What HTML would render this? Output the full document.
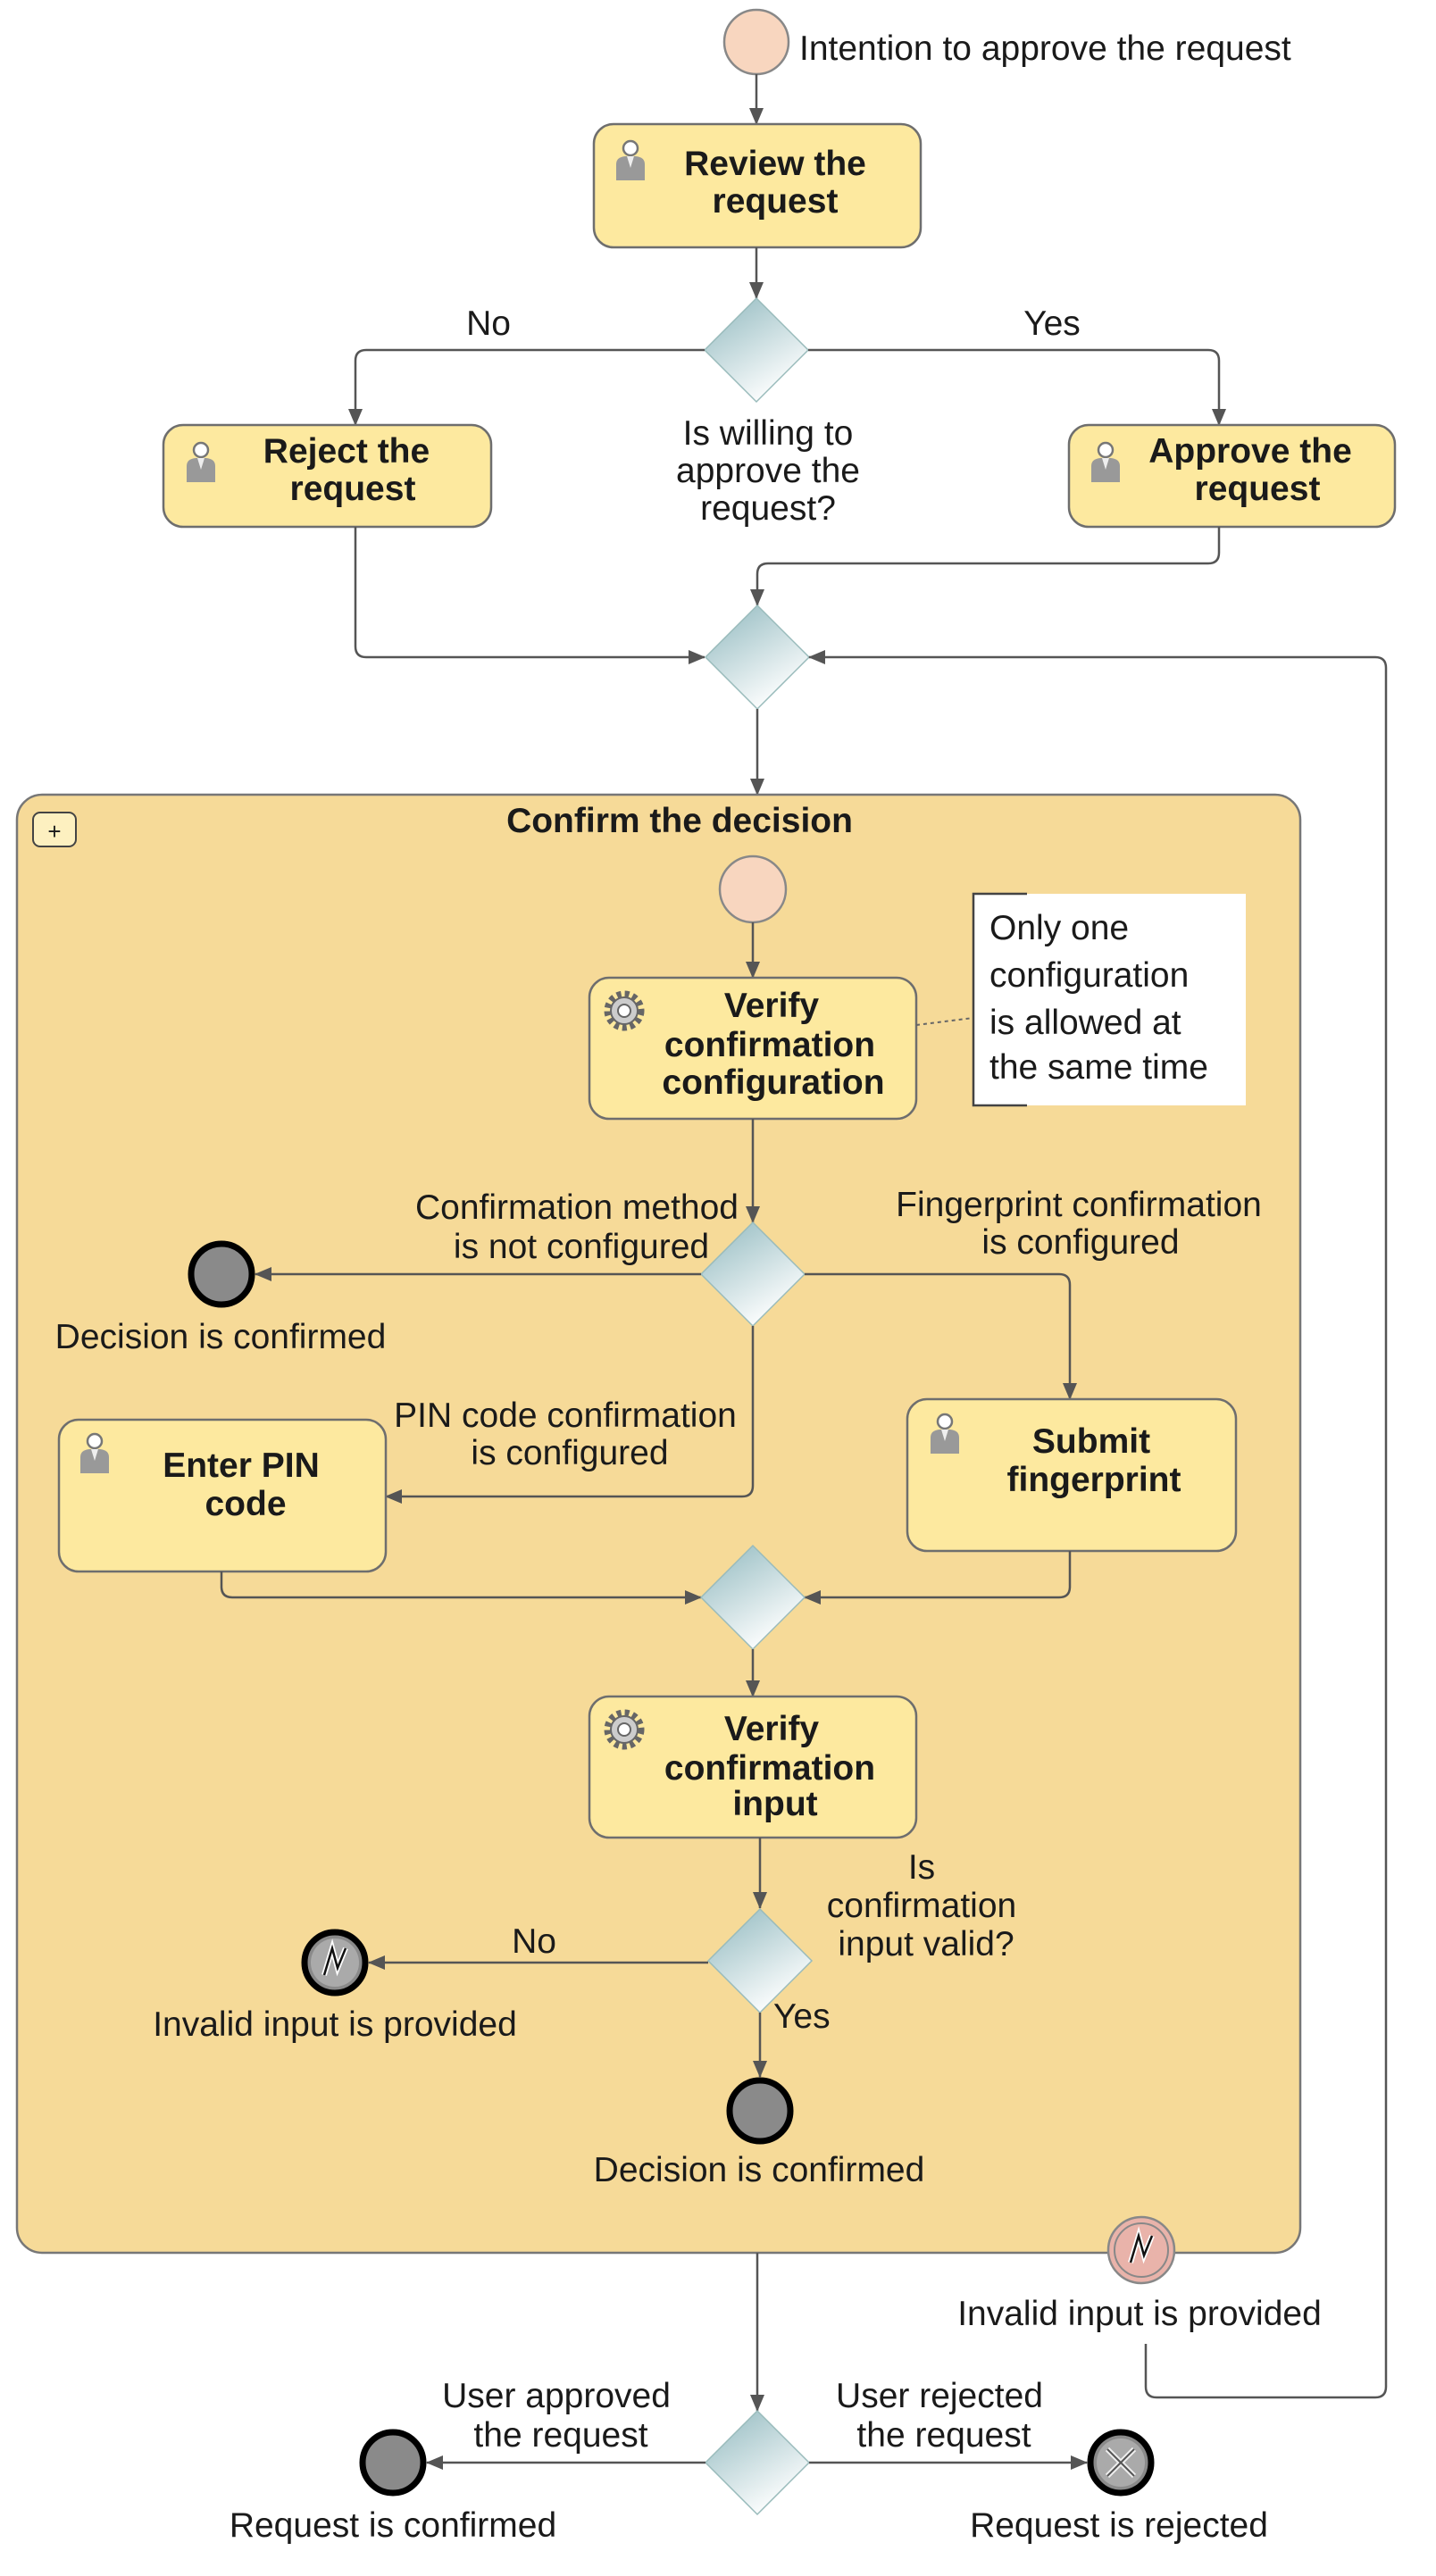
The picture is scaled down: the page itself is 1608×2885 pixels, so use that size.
<!DOCTYPE html>
<html><head><meta charset="utf-8"><style>
html,body{margin:0;padding:0;background:#fff;}
svg{display:block;}
text{font-family:"Liberation Sans",Arial,sans-serif;fill:#1a1a1a;}
.l{font-size:39px;}
.b{font-size:39px;font-weight:bold;}
.c{text-anchor:middle;}
.ln{fill:none;stroke:#555;stroke-width:2.5;}
.task{fill:#fde99f;stroke:#6e6e6e;stroke-width:2.5;}
</style></head><body>
<svg width="1608" height="2885" viewBox="0 0 1608 2885" xmlns="http://www.w3.org/2000/svg">
<defs>
<marker id="a" markerWidth="20" markerHeight="16" refX="18" refY="8" orient="auto" markerUnits="userSpaceOnUse"><path d="M0,0 L19,8 L0,16 z" fill="#555"/></marker>
<linearGradient id="g" x1="0" y1="0" x2="0.6" y2="1"><stop offset="0" stop-color="#8fb8be"/><stop offset="1" stop-color="#ffffff"/></linearGradient>
<g id="gw"><path d="M0,-58 L58,0 L0,58 L-58,0 z" fill="url(#g)" stroke="#9bb" stroke-width="1.5"/></g>
<g id="user"><circle cx="0" cy="-14" r="8" fill="#fff" stroke="#777" stroke-width="2.5"/><path d="M-16,22 L-16,4 Q-16,-4 -6,-5 L6,-5 Q16,-4 16,4 L16,22 z" fill="#999"/><path d="M-4,-5 L0,8 L4,-5 z" fill="#eee"/></g>
<g id="gear"><circle r="19" fill="none" stroke="#666" stroke-width="7" stroke-dasharray="5 4"/><circle r="15" fill="#ccc" stroke="#666" stroke-width="2"/><circle r="7" fill="#fff" stroke="#666" stroke-width="2"/></g>
<g id="end"><circle r="34" fill="#8a8a8a" stroke="#000" stroke-width="7"/></g>
<g id="err"><circle r="34" fill="#8a8a8a" stroke="#000" stroke-width="7"/><circle r="27" fill="#aaa"/><path d="M-12,14 L-3,-16 L3,6 L12,-16" fill="none" stroke="#fff" stroke-width="6"/><path d="M-12,14 L-3,-16 L3,6 L12,-16" fill="none" stroke="#111" stroke-width="2.5"/></g>
</defs>

<!-- top start -->
<circle cx="847" cy="47" r="36" fill="#f8d6bf" stroke="#888" stroke-width="2.5"/>
<text class="l" x="895" y="67">Intention to approve the request</text>
<path class="ln" d="M847,83 L847,139" marker-end="url(#a)"/>

<!-- Review -->
<rect class="task" x="665" y="139" width="366" height="138" rx="22"/>
<use href="#user" x="706" y="180"/>
<text class="b c" x="868" y="196">Review the</text>
<text class="b c" x="868" y="238">request</text>
<path class="ln" d="M847,277 L847,334" marker-end="url(#a)"/>

<!-- gateway 1 -->
<use href="#gw" x="847" y="392"/>
<text class="l c" x="547" y="375">No</text>
<text class="l c" x="1178" y="375">Yes</text>
<path class="ln" d="M789,392 L410,392 Q398,392 398,404 L398,476" marker-end="url(#a)"/>
<path class="ln" d="M905,392 L1353,392 Q1365,392 1365,404 L1365,476" marker-end="url(#a)"/>
<text class="l c" x="860" y="498">Is willing to</text>
<text class="l c" x="860" y="540">approve the</text>
<text class="l c" x="860" y="582">request?</text>

<rect class="task" x="183" y="476" width="367" height="114" rx="22"/>
<use href="#user" x="225" y="518"/>
<text class="b c" x="388" y="518">Reject the</text>
<text class="b c" x="395" y="560">request</text>
<rect class="task" x="1197" y="476" width="365" height="114" rx="22"/>
<use href="#user" x="1238" y="518"/>
<text class="b c" x="1400" y="518">Approve the</text>
<text class="b c" x="1408" y="560">request</text>

<!-- gateway 2 -->
<path class="ln" d="M398,590 L398,724 Q398,736 410,736 L789,736" marker-end="url(#a)"/>
<path class="ln" d="M1365,590 L1365,619 Q1365,631 1353,631 L860,631 Q848,631 848,643 L848,678" marker-end="url(#a)"/>
<use href="#gw" x="848" y="736"/>
<path class="ln" d="M848,794 L848,890" marker-end="url(#a)"/>
<path class="ln" d="M1283,2625 L1283,2673 Q1283,2685 1295,2685 L1540,2685 Q1552,2685 1552,2673 L1552,748 Q1552,736 1540,736 L906,736" marker-end="url(#a)"/>

<!-- subprocess -->
<rect x="19" y="890" width="1437" height="1633" rx="28" fill="#f6da98" stroke="#777" stroke-width="2.5"/>
<rect x="37" y="910" width="48" height="38" rx="8" fill="#fdf0c0" stroke="#444" stroke-width="2"/>
<text x="61" y="940" style="font-size:26px" class="c">+</text>
<text class="b c" x="761" y="932">Confirm the decision</text>

<circle cx="843" cy="996" r="37" fill="#f8d6bf" stroke="#888" stroke-width="2.5"/>
<path class="ln" d="M843,1033 L843,1095" marker-end="url(#a)"/>
<rect class="task" x="660" y="1095" width="366" height="158" rx="22"/>
<use href="#gear" x="699" y="1132"/>
<text class="b c" x="864" y="1139">Verify</text>
<text class="b c" x="862" y="1183">confirmation</text>
<text class="b c" x="866" y="1225">configuration</text>
<path d="M1026,1148 L1090,1140" stroke="#666" stroke-width="2" stroke-dasharray="4 4" fill="none"/>
<rect x="1090" y="1001" width="305" height="237" fill="#fff"/>
<path d="M1150,1001 L1090,1001 L1090,1238 L1150,1238" fill="none" stroke="#444" stroke-width="2.5"/>
<text class="l" x="1108" y="1052">Only one</text>
<text class="l" x="1108" y="1105">configuration</text>
<text class="l" x="1108" y="1158">is allowed at</text>
<text class="l" x="1108" y="1208">the same time</text>

<path class="ln" d="M843,1253 L843,1369" marker-end="url(#a)"/>
<use href="#gw" x="843" y="1427"/>
<text class="l c" x="646" y="1365">Confirmation method</text>
<text class="l c" x="651" y="1409">is not configured</text>
<text class="l c" x="1208" y="1362">Fingerprint confirmation</text>
<text class="l c" x="1210" y="1404">is configured</text>
<path class="ln" d="M785,1427 L286,1427" marker-end="url(#a)"/>
<use href="#end" x="248" y="1427"/>
<text class="l c" x="247" y="1510">Decision is confirmed</text>
<path class="ln" d="M901,1427 L1186,1427 Q1198,1427 1198,1439 L1198,1567" marker-end="url(#a)"/>
<path class="ln" d="M843,1485 L843,1664 Q843,1676 831,1676 L432,1676" marker-end="url(#a)"/>
<text class="l c" x="633" y="1598">PIN code confirmation</text>
<text class="l c" x="638" y="1640">is configured</text>

<rect class="task" x="66" y="1590" width="366" height="170" rx="22"/>
<use href="#user" x="106" y="1628"/>
<text class="b c" x="270" y="1654">Enter PIN</text>
<text class="b c" x="275" y="1697">code</text>
<rect class="task" x="1016" y="1567" width="368" height="170" rx="22"/>
<use href="#user" x="1058" y="1606"/>
<text class="b c" x="1222" y="1627">Submit</text>
<text class="b c" x="1225" y="1670">fingerprint</text>

<path class="ln" d="M248,1760 L248,1777 Q248,1789 260,1789 L785,1789" marker-end="url(#a)"/>
<path class="ln" d="M1198,1737 L1198,1777 Q1198,1789 1186,1789 L901,1789" marker-end="url(#a)"/>
<use href="#gw" x="843" y="1789"/>
<path class="ln" d="M843,1847 L843,1900" marker-end="url(#a)"/>

<rect class="task" x="660" y="1900" width="366" height="158" rx="22"/>
<use href="#gear" x="699" y="1937"/>
<text class="b c" x="864" y="1949">Verify</text>
<text class="b c" x="862" y="1993">confirmation</text>
<text class="b c" x="868" y="2033">input</text>
<path class="ln" d="M851,2058 L851,2137" marker-end="url(#a)"/>
<use href="#gw" x="851" y="2196"/>
<text class="l c" x="1032" y="2104">Is</text>
<text class="l c" x="1032" y="2147">confirmation</text>
<text class="l c" x="1037" y="2190">input valid?</text>
<path class="ln" d="M793,2198 L413,2198" marker-end="url(#a)"/>
<text class="l c" x="598" y="2187">No</text>
<use href="#err" x="375" y="2198"/>
<text class="l c" x="375" y="2280">Invalid input is provided</text>
<text class="l" x="866" y="2271">Yes</text>
<path class="ln" d="M851,2254 L851,2326" marker-end="url(#a)"/>
<use href="#end" x="851" y="2364"/>
<text class="l c" x="850" y="2443">Decision is confirmed</text>

<!-- boundary event -->
<circle cx="1278" cy="2520" r="37" fill="#e9b3aa" stroke="#888" stroke-width="2.5"/>
<circle cx="1278" cy="2520" r="30" fill="none" stroke="#888" stroke-width="2"/>
<path d="M1266,2534 L1275,2504 L1281,2526 L1290,2504" fill="none" stroke="#fff" stroke-width="6"/>
<path d="M1266,2534 L1275,2504 L1281,2526 L1290,2504" fill="none" stroke="#111" stroke-width="2.5"/>
<text class="l c" x="1276" y="2604">Invalid input is provided</text>

<!-- bottom -->
<path class="ln" d="M848,2523 L848,2700" marker-end="url(#a)"/>
<use href="#gw" x="848" y="2758"/>
<text class="l c" x="623" y="2696">User approved</text>
<text class="l c" x="628" y="2740">the request</text>
<text class="l c" x="1052" y="2696">User rejected</text>
<text class="l c" x="1057" y="2740">the request</text>
<path class="ln" d="M790,2758 L478,2758" marker-end="url(#a)"/>
<use href="#end" x="440" y="2758"/>
<text class="l c" x="440" y="2841">Request is confirmed</text>
<path class="ln" d="M906,2758 L1217,2758" marker-end="url(#a)"/>
<circle cx="1255" cy="2758" r="34" fill="#8a8a8a" stroke="#000" stroke-width="7"/>
<circle cx="1255" cy="2758" r="27" fill="#aaa"/>
<path d="M1240,2743 L1270,2773 M1270,2743 L1240,2773" stroke="#eee" stroke-width="6"/>
<path d="M1240,2743 L1270,2773 M1270,2743 L1240,2773" stroke="#555" stroke-width="2"/>
<text class="l c" x="1253" y="2841">Request is rejected</text>
</svg>
</body></html>
